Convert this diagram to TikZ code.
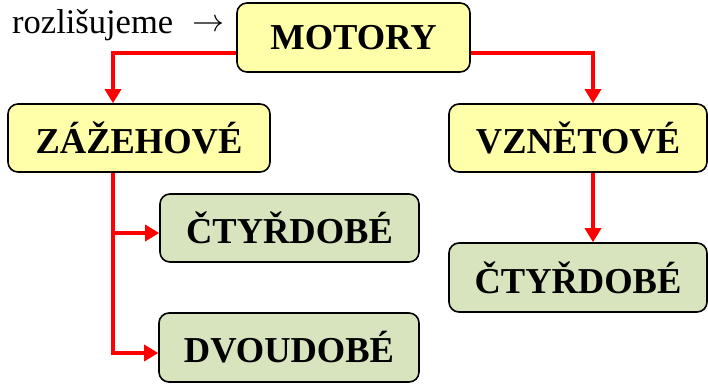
\documentclass[tikz,border=0pt]{standalone}
\usepackage{fontspec}
\usepackage{graphicx}
\setmainfont{Liberation Serif}
\usetikzlibrary{arrows.meta,calc}
\definecolor{boxyellow}{HTML}{FFFFAA}
\definecolor{boxgreen}{HTML}{D7E4BD}
\tikzset{
  box/.style={draw=black, line width=1.6pt, rounded corners=10pt, inner sep=0pt,
    font=\fontsize{36.5}{40}\selectfont\bfseries, text=black},
  ybox/.style={box, fill=boxyellow},
  gbox/.style={box, fill=boxgreen},
  conn/.style={draw=red, line width=3.3pt, -{Triangle[length=14pt,width=16pt]}, line join=miter},
}
\begin{document}
\begin{tikzpicture}[x=1pt,y=1pt]
\useasboundingbox (0,0) rectangle (708,-383);
\node[ybox, minimum width=233pt, minimum height=69pt] (m) at (353.5,-37.5) {MOTORY};
\node[ybox, minimum width=262pt, minimum height=68pt] (z) at (139,-138) {ZÁŽEHOVÉ};
\node[ybox, minimum width=258pt, minimum height=68pt] (v) at (578,-138) {VZNĚTOVÉ};
\node[gbox, minimum width=259pt, minimum height=68pt] (c1) at (289.5,-228) {ČTYŘDOBÉ};
\node[gbox, minimum width=260pt, minimum height=69pt] (d) at (289,-347.5) {DVOUDOBÉ};
\node[gbox, minimum width=258pt, minimum height=69pt] (c2) at (578,-277.5) {ČTYŘDOBÉ};
\node[anchor=base west, inner sep=0pt, font=\fontsize{34.5}{40}\selectfont] (r) at (12,-33) {rozlišujeme\hspace{19pt}\raisebox{2pt}{\resizebox{32pt}{!}{$\rightarrow$}}};
% routing points
\coordinate (pl) at (113,-53);
\coordinate (pr) at (593,-53);
\coordinate (b1) at (113,-233);
\coordinate (b2) at (113,-353);
\draw[conn] (m.west |- pl) -| (z.north -| pl);
\draw[conn] (m.east |- pr) -| (v.north -| pr);
\draw[conn] (v.south -| pr) -- (c2.north -| pr);
\draw[draw=red, line width=3.3pt] (z.south -| pl) -- (b2);
\draw[conn] (b1) -- (c1.west |- b1);
\draw[conn] ($(b2)+(-1.65,0)$) -- (d.west |- b2);
\end{tikzpicture}
\end{document}
